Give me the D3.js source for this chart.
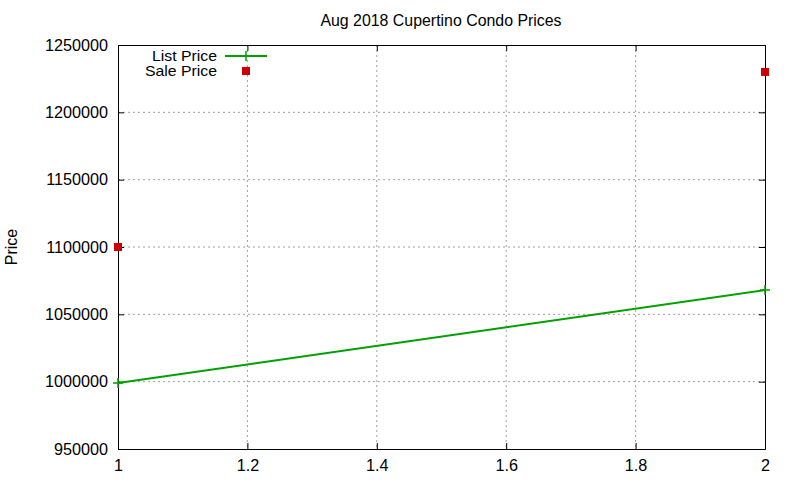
<!DOCTYPE html>
<html><head><meta charset="utf-8">
<script src="https://cdn.jsdelivr.net/npm/d3@7"></script>
<style>body{margin:0;background:#fff}svg{display:block;font-family:"Liberation Sans",Arial,sans-serif}</style>
</head><body><svg id="c" width="800" height="480"></svg>
<script>
const title = "Aug 2018 Cupertino Condo Prices";
const yLabel = "Price";
const listX = [1, 2];
const listPrice = [999000, 1068000];
const saleX = [1, 2];
const salePrice = [1100000, 1230000];
const xTicks = [1, 1.2, 1.4, 1.6, 1.8, 2];
const yTicks = [950000, 1000000, 1050000, 1100000, 1150000, 1200000, 1250000];

const svg = d3.select("#c");
const L = 118, R = 765, T = 45, B = 449;
const x = d3.scaleLinear().domain([1, 2]).range([L, R]);
const y = d3.scaleLinear().domain([950000, 1250000]).range([B, T]);

// grid
const g = svg.append("g");
g.selectAll(".gx").data(xTicks.slice(1, -1)).join("line")
  .attr("x1", d => x(d)).attr("x2", d => x(d)).attr("y1", T).attr("y2", B)
  .attr("stroke", "#a0a0a0").attr("stroke-width", 1).attr("stroke-dasharray", "2,3");
g.selectAll(".gy").data(yTicks.slice(1, -1)).join("line")
  .attr("y1", d => y(d)).attr("y2", d => y(d)).attr("x1", L).attr("x2", R)
  .attr("stroke", "#a0a0a0").attr("stroke-width", 1).attr("stroke-dasharray", "2,3");

// axes
const fs = 16.2;
const ax = svg.append("g").attr("transform", `translate(0,${B})`)
  .call(d3.axisBottom(x).tickValues(xTicks).tickSize(-6).tickPadding(10).tickFormat(d3.format("")));
const ay = svg.append("g").attr("transform", `translate(${L},0)`)
  .call(d3.axisLeft(y).tickValues(yTicks).tickSize(-6).tickPadding(10).tickFormat(d3.format("d")));
const axT = svg.append("g").attr("transform", `translate(0,${T})`)
  .call(d3.axisTop(x).tickValues(xTicks).tickSize(-6).tickFormat(""));
const ayR = svg.append("g").attr("transform", `translate(${R},0)`)
  .call(d3.axisRight(y).tickValues(yTicks).tickSize(-6).tickFormat(""));
[ax, ay, axT, ayR].forEach(a => {
  a.select(".domain").attr("stroke", "#000");
  a.selectAll(".tick line").attr("stroke", "#000");
  a.selectAll("text").attr("font-family", "Liberation Sans, Arial, sans-serif").attr("font-size", fs).attr("fill", "#000");
});
ax.selectAll("text").attr("dy", "0.71em");

// title
svg.append("text").attr("x", 441).attr("y", 26).attr("text-anchor", "middle")
  .attr("font-size", 15.9).text(title);
svg.append("text").attr("transform", "translate(17,247) rotate(-90)").attr("text-anchor", "middle")
  .attr("font-size", 16).text(yLabel);

// list price line
const lineData = listX.map((v, i) => [v, listPrice[i]]);
svg.append("path").datum(lineData)
  .attr("d", d3.line().x(d => x(d[0])).y(d => y(d[1])))
  .attr("fill", "none").attr("stroke", "#00a000").attr("stroke-width", 2);
svg.selectAll(".lp").data(lineData).join("path")
  .attr("d", d => `M${x(d[0]) - 5},${y(d[1])}h10M${x(d[0])},${y(d[1]) - 5}v10`)
  .attr("stroke", "#00a000").attr("stroke-width", 1.5);

// sale price squares
const saleData = saleX.map((v, i) => [v, salePrice[i]]);
svg.selectAll(".sp").data(saleData).join("rect")
  .attr("x", d => x(d[0]) - 4).attr("y", d => y(d[1]) - 4).attr("width", 8).attr("height", 8)
  .attr("fill", "#cc0000");

// legend
const leg = svg.append("g").attr("font-size", 14.8);
leg.append("text").attr("x", 217).attr("y", 61).attr("text-anchor", "end")
  .attr("textLength", 65).attr("lengthAdjust", "spacingAndGlyphs").text("List Price");
leg.append("line").attr("x1", 225).attr("x2", 267).attr("y1", 56).attr("y2", 56)
  .attr("stroke", "#00a000").attr("stroke-width", 2);
leg.append("path").attr("d", "M241,56h10M246,51v10").attr("stroke", "#00a000").attr("stroke-width", 1.5);
leg.append("text").attr("x", 217).attr("y", 76).attr("text-anchor", "end")
  .attr("textLength", 72).attr("lengthAdjust", "spacingAndGlyphs").text("Sale Price");
leg.append("rect").attr("x", 242).attr("y", 67).attr("width", 8).attr("height", 8).attr("fill", "#cc0000");
</script></body></html>
